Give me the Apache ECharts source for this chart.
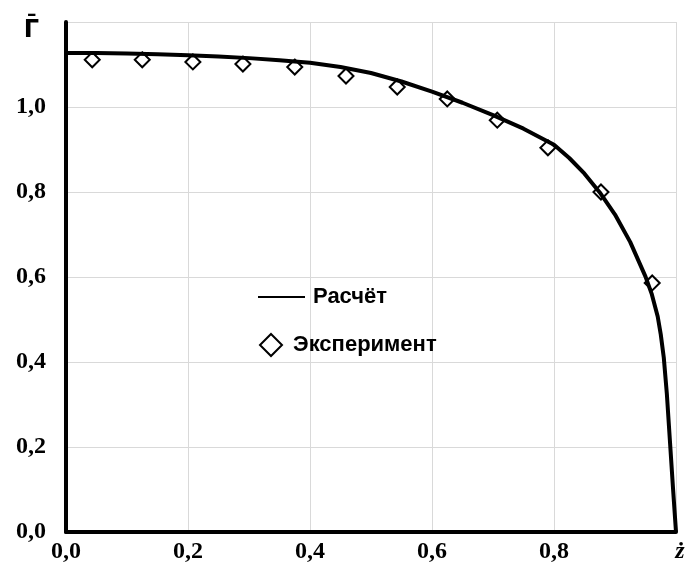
<!DOCTYPE html>
<html>
<head>
<meta charset="utf-8">
<script src="https://cdn.jsdelivr.net/npm/echarts@6/dist/echarts.min.js"></script>
<style>html,body{margin:0;padding:0;background:#fff}#c{width:690px;height:576px}</style>
</head>
<body>
<div id="c"></div>
<script>
// Calculated curve ("Расчёт")
const calcZ = [0, 0.05, 0.1, 0.15, 0.2, 0.25, 0.3, 0.35, 0.4, 0.45, 0.5, 0.55, 0.6, 0.65, 0.7, 0.75, 0.8, 0.825, 0.85, 0.875, 0.9, 0.925, 0.95, 0.96, 0.97, 0.975, 0.98, 0.985, 0.99, 0.995, 1.0];
const calcG = [1.127, 1.127, 1.126, 1.124, 1.122, 1.119, 1.115, 1.110, 1.104, 1.094, 1.080, 1.060, 1.036, 1.010, 0.981, 0.949, 0.911, 0.880, 0.843, 0.799, 0.747, 0.682, 0.601, 0.561, 0.507, 0.465, 0.410, 0.325, 0.215, 0.105, 0.0];
// Experimental points ("Эксперимент")
const expZ = [0.043, 0.125, 0.208, 0.290, 0.375, 0.459, 0.543, 0.625, 0.707, 0.790, 0.877, 0.961];
const expG = [1.111, 1.111, 1.106, 1.101, 1.094, 1.073, 1.047, 1.019, 0.969, 0.904, 0.800, 0.586];
// Tick labels
const xTicks = {0: '0,0', 0.2: '0,2', 0.4: '0,4', 0.6: '0,6', 0.8: '0,8', 1: 'ż'};
const yTicks = {0: '0,0', 0.2: '0,2', 0.4: '0,4', 0.6: '0,6', 0.8: '0,8', 1: '1,0', 1.2: 'Г\u0304'};
const seriesNames = ['Расчёт', 'Эксперимент'];

const key = v => String(Math.round(v * 10) / 10);
const xLab = {}; Object.keys(xTicks).forEach(k => xLab[key(+k)] = xTicks[k]);
const yLab = {}; Object.keys(yTicks).forEach(k => yLab[key(+k)] = yTicks[k]);

const chart = echarts.init(document.getElementById('c'));
const serif = '"Liberation Serif", "Times New Roman", serif';
const sans = '"Liberation Sans", Arial, sans-serif';
chart.setOption({
  animation: false,
  backgroundColor: '#fff',
  grid: {left: 66, right: 14, top: 22, bottom: 44, containLabel: false},
  xAxis: {
    type: 'value', min: 0, max: 1, interval: 0.2,
    axisLine: {show: true, onZero: false, lineStyle: {color: '#000', width: 4}},
    axisTick: {show: false},
    splitLine: {show: true, lineStyle: {color: '#d9d9d9', width: 1}},
    axisLabel: {
      margin: 8, color: '#000', fontFamily: serif, fontWeight: 'bold', fontSize: 24,
      formatter: v => {
        const t = xLab[key(v)];
        return t === 'ż' ? '{z|ż}' : t;
      },
      rich: {z: {fontFamily: serif, fontStyle: 'italic', fontWeight: 'bold', fontSize: 24, padding: [0, 0, 0, 8]}}
    }
  },
  yAxis: {
    type: 'value', min: 0, max: 1.2, interval: 0.2,
    axisLine: {show: true, onZero: false, lineStyle: {color: '#000', width: 4}},
    axisTick: {show: false},
    splitLine: {show: true, lineStyle: {color: '#d9d9d9', width: 1}},
    axisLabel: {
      margin: 20, color: '#000', fontFamily: serif, fontWeight: 'bold', fontSize: 24,
      formatter: v => {
        const t = yLab[key(v)];
        return key(v) === '1.2' ? '{g|' + t + '}' : t;
      },
      rich: {
        g: {fontFamily: '"DejaVu Sans"', fontWeight: 'bold', fontSize: 24, lineHeight: 26, padding: [18, 7, 0, 0]}
      }
    }
  },
  legend: [
    {
      data: [{name: seriesNames[0], icon: 'rect'}],
      left: 258, top: 285, padding: 0, itemWidth: 47, itemHeight: 2, itemGap: 0,
      textStyle: {fontFamily: sans, fontWeight: 'bold', fontSize: 22, color: '#000', lineHeight: 24, padding: [0, 0, 0, 3]},
      itemStyle: {color: '#000'}
    },
    {
      data: [{name: seriesNames[1], icon: 'diamond'}],
      left: 259, top: 333, padding: 0, itemWidth: 22, itemHeight: 22, itemGap: 0,
      textStyle: {fontFamily: sans, fontWeight: 'bold', fontSize: 22, color: '#000', lineHeight: 24, padding: [0, 0, 0, 6]},
      itemStyle: {color: '#fff', borderColor: '#000', borderWidth: 2}
    }
  ],
  series: [
    {
      name: seriesNames[0], type: 'line', z: 5,
      data: calcZ.map((z, i) => [z, calcG[i]]),
      showSymbol: false, symbol: 'none', smooth: false,
      lineStyle: {color: '#000', width: 4, join: 'round'},
      itemStyle: {color: '#000'}
    },
    {
      name: seriesNames[1], type: 'scatter', z: 3,
      data: expZ.map((z, i) => [z, expG[i]]),
      symbol: 'diamond', symbolSize: [15, 15],
      itemStyle: {color: '#fff', borderColor: '#000', borderWidth: 2, opacity: 1}
    }
  ]
});
</script>
</body>
</html>
